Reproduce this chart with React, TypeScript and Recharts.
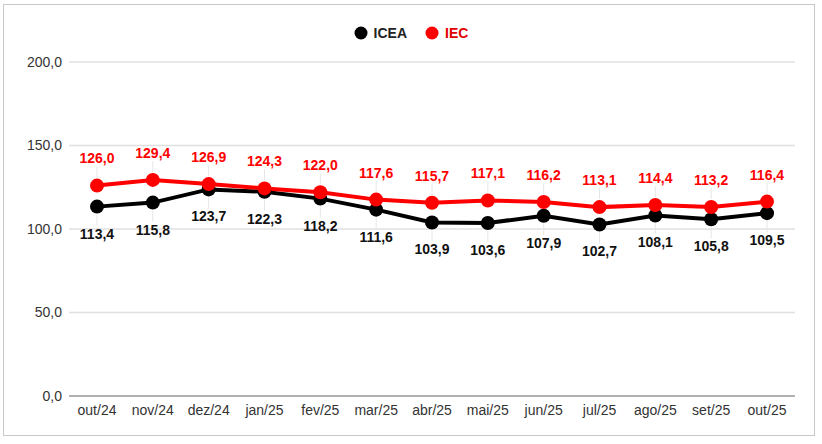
import React from "react";
import { LineChart, Line, XAxis, YAxis, CartesianGrid, LabelList } from "recharts";

const months = ["out/24", "nov/24", "dez/24", "jan/25", "fev/25", "mar/25", "abr/25", "mai/25", "jun/25", "jul/25", "ago/25", "set/25", "out/25"];
const icea = [113.4, 115.8, 123.7, 122.3, 118.2, 111.6, 103.9, 103.6, 107.9, 102.7, 108.1, 105.8, 109.5];
const iec = [126.0, 129.4, 126.9, 124.3, 122.0, 117.6, 115.7, 117.1, 116.2, 113.1, 114.4, 113.2, 116.4];
const yTicks = [0, 50, 100, 150, 200];

const data = months.map((m, i) => ({ month: m, ICEA: icea[i], IEC: iec[i] }));

const fmt = (v: number) => v.toFixed(1).replace(".", ",");
const FONT = "'Liberation Sans', Arial, sans-serif";

function makeLabel(color: string, below: boolean) {
  return (props: any) => {
    const { x, y, value } = props;
    const dy = below ? 27 : -27;
    return (
      <g>
        <line
          x1={x}
          x2={x}
          y1={below ? y + 8 : y - 8}
          y2={below ? y + dy - 8 : y + dy + 8}
          stroke="#e6e6e6"
          strokeWidth={1}
        />
        <text
          x={x}
          y={y + dy}
          dy="0.35em"
          textAnchor="middle"
          fill={color}
          fontFamily={FONT}
          fontWeight="bold"
          fontSize={14}
        >
          {fmt(Number(value))}
        </text>
      </g>
    );
  };
}

function LegendBox() {
  const items = [
    { name: "ICEA", color: "#000000", text: "#222" },
    { name: "IEC", color: "#ff0000", text: "#e00000" },
  ];
  return (
    <div
      style={{
        position: "absolute",
        left: 0,
        top: 25,
        width: 822,
        display: "flex",
        justifyContent: "center",
        gap: 18,
        fontFamily: FONT,
      }}
    >
      {items.map((it) => (
        <div key={it.name} style={{ display: "flex", alignItems: "center" }}>
          <svg width={14} height={14} style={{ marginRight: 6 }}>
            <circle cx={7} cy={7} r={6.5} fill={it.color} />
          </svg>
          <span style={{ color: it.text, fontWeight: "bold", fontSize: 14 }}>{it.name}</span>
        </div>
      ))}
    </div>
  );
}

export default function App() {
  return (
    <div style={{ position: "absolute", left: 0, top: 0, width: 822, height: 444, background: "#fff" }}>
      <div
        style={{
          position: "absolute",
          left: 3,
          top: 4,
          width: 810,
          height: 430,
          border: "1px solid #c8c8c8",
        }}
      />
      <div style={{ position: "absolute", left: 0, top: 0 }}>
        <LineChart width={822} height={444} data={data} margin={{ top: 62, right: 27, bottom: 18, left: 0 }}>
          <CartesianGrid vertical={false} stroke="#e0e0e0" strokeWidth={1.5} />
          <XAxis
            dataKey="month"
            tickLine={false}
            tickSize={0}
            tickMargin={9}
            height={30}
            padding={{ left: 28, right: 28 }}
            axisLine={{ stroke: "#9e9e9e", strokeWidth: 1.5 }}
            tick={{ fill: "#333", fontSize: 14, fontFamily: FONT }}
            interval={0}
          />
          <YAxis
            domain={[0, 200]}
            ticks={yTicks}
            width={69}
            axisLine={false}
            tickLine={false}
            tickSize={0}
            tickMargin={7}
            tickFormatter={(v) => fmt(Number(v))}
            tick={{ fill: "#333", fontSize: 14, fontFamily: FONT }}
          />
          <Line
            dataKey="ICEA"
            stroke="#000000"
            strokeWidth={4}
            dot={{ r: 7, fill: "#000000", stroke: "#000000", strokeWidth: 0 }}
            isAnimationActive={false}
          >
            <LabelList dataKey="ICEA" content={makeLabel("#111", true)} />
          </Line>
          <Line
            dataKey="IEC"
            stroke="#ff0000"
            strokeWidth={4}
            dot={{ r: 7, fill: "#ff0000", stroke: "#ff0000", strokeWidth: 0 }}
            isAnimationActive={false}
          >
            <LabelList dataKey="IEC" content={makeLabel("#ff0000", false)} />
          </Line>
        </LineChart>
      </div>
      <LegendBox />
    </div>
  );
}
